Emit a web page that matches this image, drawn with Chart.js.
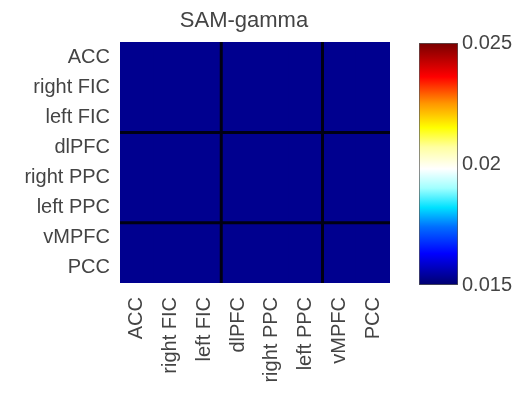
<!DOCTYPE html>
<html>
<head>
<meta charset="utf-8">
<script src="https://cdn.jsdelivr.net/npm/chart.js@4.4.1/dist/chart.umd.min.js"></script>
<style>
  html, body { margin: 0; padding: 0; background: #fff; }
  #wrap { position: relative; width: 520px; height: 395px; overflow: hidden; }
  #heat { position: absolute; left: 0; top: 0; }
  #bar { position: absolute; left: 400px; top: 0; }
</style>
</head>
<body>
<div id="wrap">
  <canvas id="heat" width="488" height="395"></canvas>
  <canvas id="bar" width="120" height="395"></canvas>
</div>
<script>
// Regioes (linhas e colunas da matriz)
const regions = ['ACC', 'right FIC', 'left FIC', 'dlPFC', 'right PPC', 'left PPC', 'vMPFC', 'PCC'];
// Onde comecam os grupos (linhas pretas)
const groupBreaks = [3, 6];

// Valores da matriz SAM-gamma (todos no minimo da escala)
const values = [
  [0.0153, 0.0153, 0.0153, 0.0153, 0.0153, 0.0153, 0.0153, 0.0153],
  [0.0153, 0.0153, 0.0153, 0.0153, 0.0153, 0.0153, 0.0153, 0.0153],
  [0.0153, 0.0153, 0.0153, 0.0153, 0.0153, 0.0153, 0.0153, 0.0153],
  [0.0153, 0.0153, 0.0153, 0.0153, 0.0153, 0.0153, 0.0153, 0.0153],
  [0.0153, 0.0153, 0.0153, 0.0153, 0.0153, 0.0153, 0.0153, 0.0153],
  [0.0153, 0.0153, 0.0153, 0.0153, 0.0153, 0.0153, 0.0153, 0.0153],
  [0.0153, 0.0153, 0.0153, 0.0153, 0.0153, 0.0153, 0.0153, 0.0153],
  [0.0153, 0.0153, 0.0153, 0.0153, 0.0153, 0.0153, 0.0153, 0.0153]
];

// Escala de cores
const colorMin = 0.015;
const colorMax = 0.025;
const colorTicks = [0.015, 0.02, 0.025];
const colorTickLabels = ['0.015', '0.02', '0.025'];

const cmapStops = [
  [0.00, [0, 0, 110]],
  [0.13, [0, 0, 255]],
  [0.24, [0, 110, 255]],
  [0.32, [0, 225, 255]],
  [0.40, [160, 255, 255]],
  [0.48, [255, 255, 255]],
  [0.57, [255, 255, 160]],
  [0.65, [255, 255, 0]],
  [0.75, [255, 150, 0]],
  [0.86, [255, 0, 0]],
  [1.00, [120, 0, 0]]
];

function colorFor(v) {
  let t = (v - colorMin) / (colorMax - colorMin);
  t = Math.max(0, Math.min(1, t));
  for (let k = 1; k < cmapStops.length; k++) {
    const [t1, c1] = cmapStops[k];
    const [t0, c0] = cmapStops[k - 1];
    if (t <= t1) {
      const f = (t - t0) / (t1 - t0);
      const c = c0.map((a, i) => Math.round(a + (c1[i] - a) * f));
      return `rgb(${c[0]}, ${c[1]}, ${c[2]})`;
    }
  }
  return 'rgb(120, 0, 0)';
}

Chart.defaults.font.family = '"Liberation Sans", Arial, sans-serif';
Chart.defaults.font.size = 20;
Chart.defaults.color = '#444';

// Linhas pretas separando os grupos
const groupLines = {
  id: 'groupLines',
  afterDatasetsDraw(chart) {
    const { ctx, chartArea, scales: { x, y } } = chart;
    ctx.save();
    ctx.strokeStyle = '#000014';
    ctx.lineWidth = 3;
    groupBreaks.forEach(b => {
      const px = (x.getPixelForValue(b - 1) + x.getPixelForValue(b)) / 2;
      const py = y.getPixelForValue(regions.length - b);
      ctx.beginPath();
      ctx.moveTo(px, chartArea.top);
      ctx.lineTo(px, chartArea.bottom);
      ctx.moveTo(chartArea.left, py);
      ctx.lineTo(chartArea.right, py);
      ctx.stroke();
    });
    ctx.restore();
  }
};

new Chart(document.getElementById('heat'), {
  type: 'bar',
  data: {
    labels: regions,
    datasets: regions.map((r, i) => ({
      label: r,
      data: regions.map(c => ({ x: c, y: [regions.length - 1 - i, regions.length - i] })),
      backgroundColor: values[i].map(colorFor),
      borderWidth: 0,
      inflateAmount: 0.6,
      barPercentage: 1,
      categoryPercentage: 1
    }))
  },
  options: {
    responsive: false,
    animation: false,
    layout: { padding: 0 },
    plugins: {
      legend: { display: false },
      tooltip: { enabled: false },
      title: {
        display: true,
        text: 'SAM-gamma',
        color: '#444',
        font: { size: 22, weight: 'normal' },
        padding: { top: 8, bottom: 7.6 }
      }
    },
    scales: {
      x: {
        type: 'category',
        stacked: true,
        grid: { display: false, drawTicks: false },
        border: { display: false },
        ticks: { autoSkip: false, minRotation: 90, maxRotation: 90, padding: 14 },
        afterFit: s => { s.height = 112; }
      },
      y: {
        type: 'linear',
        min: 0,
        max: regions.length,
        grid: { display: false, drawTicks: false },
        border: { display: false },
        afterBuildTicks: s => { s.ticks = regions.map((r, i) => ({ value: regions.length - 0.5 - i })); },
        ticks: {
          autoSkip: false,
          padding: 10,
          callback: v => regions[Math.round(regions.length - 0.5 - v)]
        },
        afterFit: s => { s.width = 120; }
      },
      // espaco vazio a direita (a barra de cores fica em outro canvas)
      spacer: {
        type: 'linear',
        position: 'right',
        grid: { display: false, drawTicks: false },
        border: { display: false },
        ticks: { display: false },
        afterFit: s => { s.width = 98; }
      }
    }
  },
  plugins: [groupLines]
});

// Barra de cores
new Chart(document.getElementById('bar'), {
  type: 'bar',
  data: {
    labels: [''],
    datasets: [{
      data: [[colorMin, colorMax]],
      backgroundColor: context => {
        const { chartArea, ctx } = context.chart;
        if (!chartArea) return null;
        const g = ctx.createLinearGradient(0, chartArea.bottom, 0, chartArea.top);
        cmapStops.forEach(([t, c]) => g.addColorStop(t, `rgb(${c[0]}, ${c[1]}, ${c[2]})`));
        return g;
      },
      borderColor: '#555',
      borderWidth: 1,
      borderSkipped: false,
      barPercentage: 1,
      categoryPercentage: 1
    }]
  },
  options: {
    responsive: false,
    animation: false,
    layout: { padding: { left: 19, right: 0, top: 43, bottom: 110 } },
    plugins: { legend: { display: false }, tooltip: { enabled: false } },
    scales: {
      x: { display: false },
      y: {
        position: 'right',
        min: colorMin,
        max: colorMax,
        grid: { display: false, drawTicks: false },
        border: { display: false },
        afterBuildTicks: s => { s.ticks = colorTicks.map(v => ({ value: v })); },
        ticks: {
          padding: 4,
          callback: (v, i) => colorTickLabels[i]
        },
        afterFit: s => { s.width = 62; }
      }
    }
  }
});
</script>
</body>
</html>
